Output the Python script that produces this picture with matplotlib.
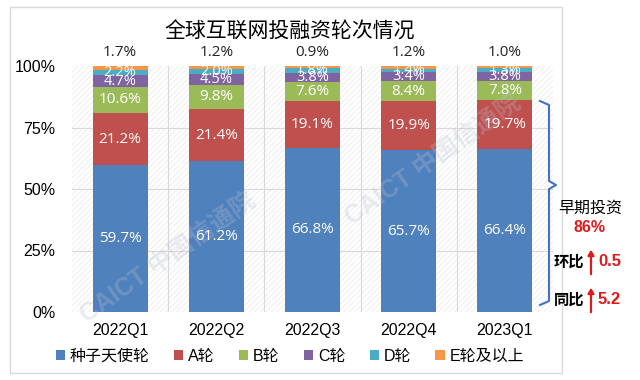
import matplotlib
matplotlib.use("Agg")
import matplotlib.pyplot as plt
from matplotlib.patches import Rectangle, FancyArrowPatch
from matplotlib.lines import Line2D
import numpy as np

plt.rcParams['font.family'] = ['Liberation Sans', 'Noto Sans CJK SC', 'DejaVu Sans']
plt.rcParams['hatch.linewidth'] = 0.4

quarters = ["2022Q1", "2022Q2", "2022Q3", "2022Q4", "2023Q1"]
series_names = ["种子天使轮", "A轮", "B轮", "C轮", "D轮", "E轮及以上"]
seed = [59.7, 61.2, 66.8, 65.7, 66.4]
round_a = [21.2, 21.4, 19.1, 19.9, 19.7]
round_b = [10.6, 9.8, 7.6, 8.4, 7.8]
round_c = [4.7, 4.5, 3.8, 3.4, 3.8]
round_d = [2.2, 2.0, 1.8, 1.4, 1.3]
round_e = [1.7, 1.2, 0.9, 1.2, 1.0]
colors = ["#4F81BD", "#C0504D", "#9BBB59", "#8064A2", "#4BACC6", "#F79646"]

W, H = 640, 380
fig = plt.figure(figsize=(6.4, 3.8), dpi=100)

def fx(px):
    return px / W

def fy(py):
    return 1 - py / H

# outer chart frame
fig.patches.append(Rectangle((fx(10), fy(373)), fx(562) - fx(10), fy(7) - fy(373),
                             transform=fig.transFigure, fill=False,
                             edgecolor="#d9d9d9", linewidth=1))

ax = fig.add_axes([fx(72), fy(312), fx(553) - fx(72), fy(66) - fy(312)])
x = np.arange(len(quarters))
ax.set_xlim(-0.5, len(quarters) - 0.5)
ax.set_ylim(0, 100)

# faint hatched background
ax.add_patch(Rectangle((0, 0), 1, 1, transform=ax.transAxes, facecolor="white",
                       edgecolor="#e3e3e3", hatch="//////", linewidth=0, zorder=0))
for v in [25, 50, 75]:
    ax.axhline(v, color="#d9d9d9", linewidth=0.8, zorder=1)
for b in np.arange(0.5, len(quarters) - 0.5, 1):
    ax.axvline(b, color="#d9d9d9", linewidth=0.8, zorder=1)

label_font = ['Open Sans', 'DejaVu Sans']
data = [seed, round_a, round_b, round_c, round_d, round_e]
bottom = np.zeros(len(quarters))
for i, (vals, name, c) in enumerate(zip(data, series_names, colors)):
    vals = np.array(vals)
    ax.bar(x, vals, 0.57, bottom=bottom, color=c, label=name, zorder=2)
    for xi, v, b in zip(x, vals, bottom):
        if i == 5:
            ax.text(xi, 102.5, f"{v:.1f}%", ha="center", va="bottom", family=label_font,
                    fontsize=11, color="#222222", zorder=5)
        else:
            fs = 11 if i < 3 else 10.5
            ax.text(xi, b + v / 2, f"{v:.1f}%", ha="center", va="center", family=label_font,
                    fontsize=fs, color="white", zorder=5)
    bottom += vals

for s in ax.spines.values():
    s.set_visible(False)
ax.set_yticks([0, 25, 50, 75, 100])
ax.set_yticklabels(["0%", "25%", "50%", "75%", "100%"], fontsize=11.5)
ax.set_xticks(x)
ax.set_xticklabels(quarters, fontsize=11.5)
ax.tick_params(length=0, pad=8)
ax.tick_params(axis="y", pad=12)

# watermarks
for (wx, wy) in [(0.2, 0.22), (0.75, 0.62)]:
    ax.text(wx, wy, "CAICT 中国信通院", transform=ax.transAxes, rotation=35,
            fontsize=18, color="#b8c0d0", alpha=0.3, ha="center", va="center",
            fontweight="bold", zorder=4)

fig.text(fx(290), fy(32), "全球互联网投融资轮次情况", ha="center", va="center", fontsize=15)

fig.legend(loc="center", bbox_to_anchor=(fx(290), fy(356)), ncol=6, frameon=False,
           fontsize=11.5, handlelength=0.6, handleheight=0.6, handletextpad=0.3,
           columnspacing=1.5)

# bracket
bx0, bx1, tipx = 540, 549, 556
top, bot, tip = 101, 305, 185
fig.add_artist(Line2D([fx(bx0), fx(bx1), fx(bx1), fx(tipx), fx(bx1), fx(bx1), fx(bx0)],
                      [fy(top), fy(top + 4), fy(tip - 4), fy(tip), fy(tip + 4), fy(bot - 4), fy(bot)],
                      transform=fig.transFigure, color="#4472C4", linewidth=1.5))

fig.text(fx(590), fy(208), "早期投资", ha="center", va="center", fontsize=11.5)
fig.text(fx(590), fy(227), "86%", ha="center", va="center", fontsize=11.5,
         color="#E01A1A", fontweight="bold")
for ty, lab, val in [(262, "环比", "0.5"), (300, "同比", "5.2")]:
    fig.text(fx(584), fy(ty), lab, ha="right", va="center", fontsize=11, fontweight="bold")
    fig.add_artist(FancyArrowPatch(
        (fx(591), fy(ty + 15)), (fx(591), fy(ty - 15)), transform=fig.transFigure,
        arrowstyle="-|>,head_length=3,head_width=1.8", color="#E01A1A", linewidth=1.6))
    fig.text(fx(598), fy(ty), val, ha="left", va="center", fontsize=12,
             color="#E01A1A", fontweight="bold")

fig.savefig("out.png", dpi=100, facecolor="white")
